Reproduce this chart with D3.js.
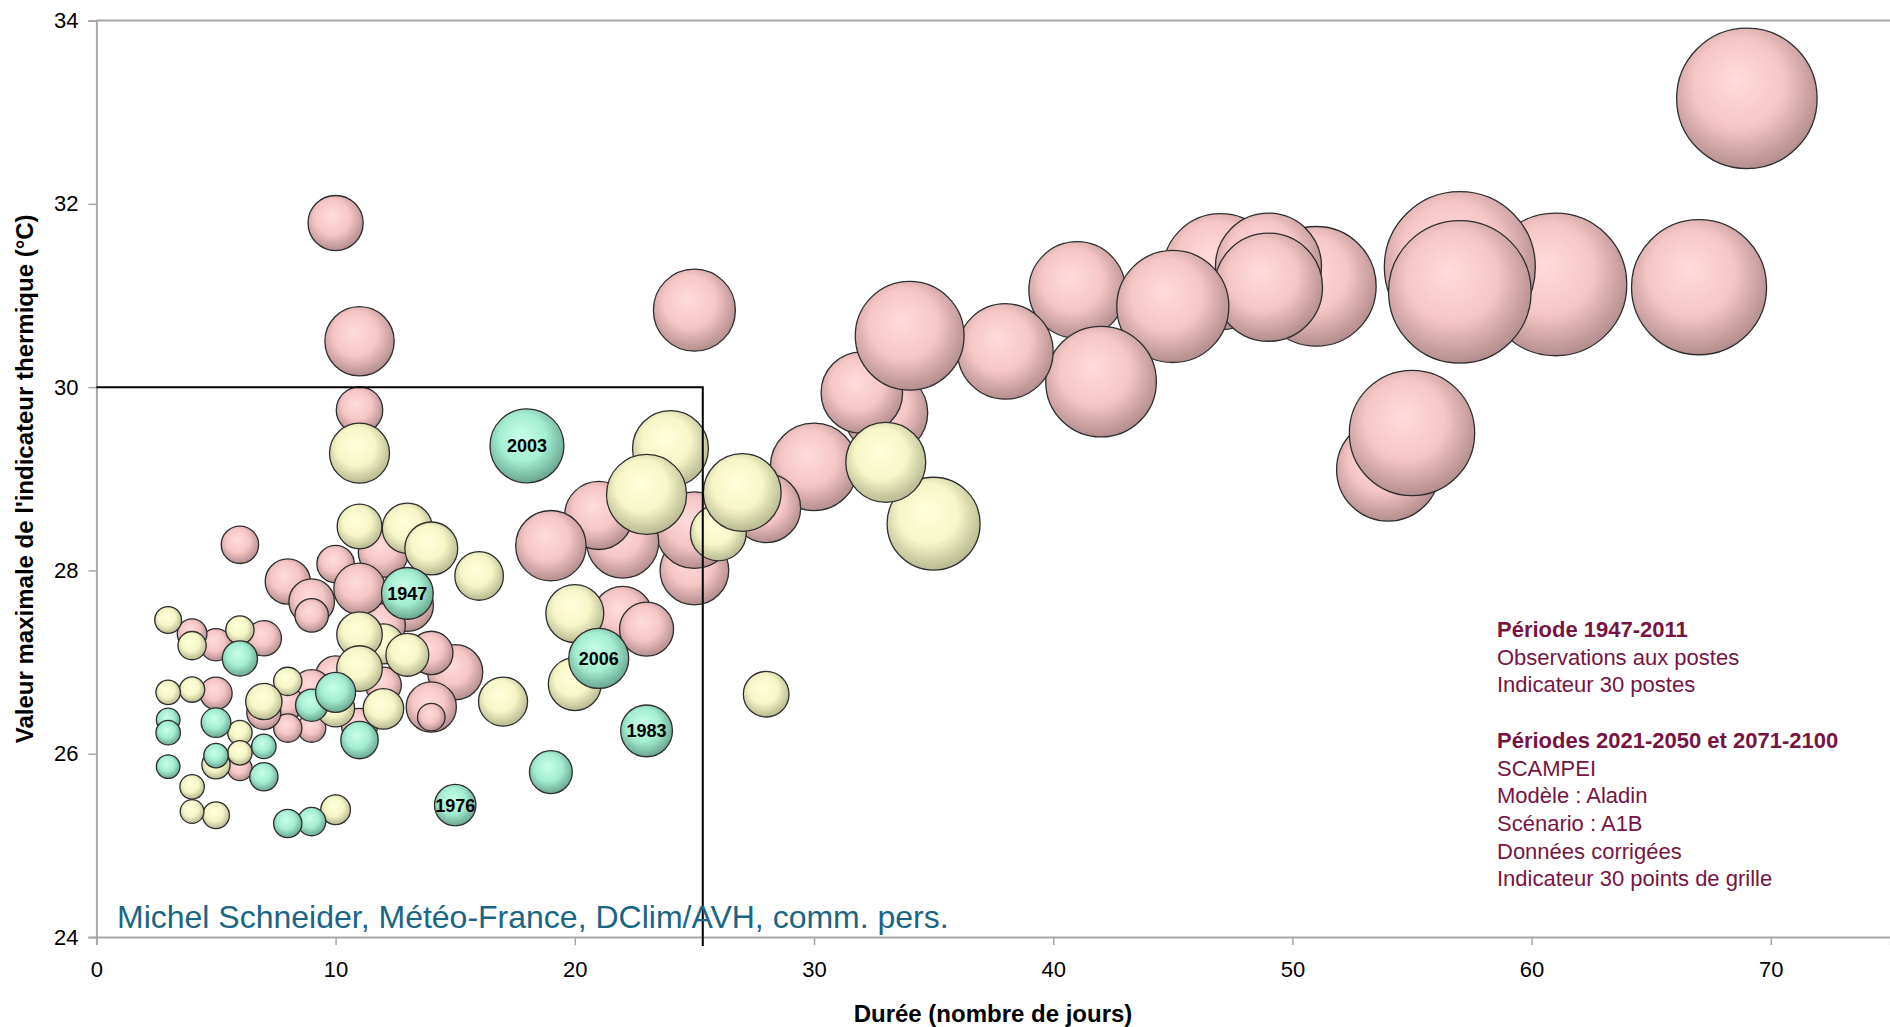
<!DOCTYPE html>
<html>
<head>
<meta charset="utf-8">
<script src="https://cdn.jsdelivr.net/npm/d3@7"></script>
<style>
  html, body { margin: 0; padding: 0; background: #fff; }
  svg { display: block; font-family: "Liberation Sans", Arial, sans-serif; }
</style>
</head>
<body>
<svg id="chart" width="1890" height="1027"></svg>
<script>
// ---------- Données ----------
// Période 2071-2100 (SCAMPEI, Aladin, A1B) : durée (jours), valeur max (°C), taille de la bulle
const duree2071 = [69, 67, 61, 57, 57, 54, 55, 51, 47, 49, 49, 41, 45, 42, 38, 33, 32, 34, 30, 28,
                   25, 25, 25, 22, 21, 19, 22, 23, 15, 14, 14, 14, 13, 12, 12, 12, 10, 11, 10, 11,
                   11, 11, 10, 8, 9, 9, 9, 9, 8, 8, 7, 7, 6, 6, 5, 5, 4];
const temp2071  = [33.15, 31.09, 31.12, 31.31, 31.04, 29.10, 29.50, 31.10, 31.26, 31.32, 31.09, 31.06,
                   30.88, 30.06, 30.39, 29.72, 29.94, 30.56, 29.13, 28.68, 30.84, 28.00, 28.44, 28.31,
                   28.60, 28.27, 27.50, 27.36, 26.89, 27.10, 26.51, 26.40, 27.62, 28.20, 27.40, 26.75,
                   28.07, 27.80, 31.79, 30.50, 29.75, 26.30, 26.85, 27.88, 27.66, 27.51, 26.70, 26.28,
                   26.55, 26.28, 27.26, 26.45, 28.28, 25.84, 27.19, 26.66, 27.31];
const taille2071 = [493, 456, 508, 570, 508, 265, 393, 358, 336, 281, 292, 233, 314, 306, 228, 176,
                    166, 296, 191, 119, 168, 118, 147, 130, 116, 124, 90, 73, 76, 47, 63, 19, 68, 63,
                    48, 32, 35, 66, 76, 120, 54, 32, 40, 51, 52, 28, 40, 20, 26, 20, 31, 29, 35, 15,
                    26, 26, 22];

// Période 2021-2050
const duree2021 = [35, 33, 28, 26, 27, 24, 23, 20, 20, 17, 16, 11, 13, 14, 11, 12, 11, 13, 11, 12,
                   10, 8, 7, 6, 6, 6, 5, 5, 4, 4, 4, 4, 3, 3, 10];
const temp2021  = [28.51, 29.18, 26.65, 28.41, 28.85, 29.33, 28.83, 27.53, 26.76, 26.57, 27.94, 28.48,
                   28.46, 28.24, 29.28, 27.20, 27.30, 27.08, 26.93, 26.49, 26.50, 26.79, 26.57, 27.35,
                   26.23, 26.01, 25.88, 25.33, 27.18, 26.70, 25.64, 25.37, 27.46, 26.67, 25.39];
const taille2021 = [216, 160, 52, 78, 151, 144, 160, 84, 70, 60, 59, 50, 63, 70, 90, 40, 52, 46, 52,
                    41, 36, 20, 33, 20, 15, 15, 20, 18, 20, 16, 15, 14, 18, 15, 22];

// Période 1947-2011 : observations aux postes
const dureeObs = [19, 11, 9, 10, 9, 8, 7, 7, 6, 5, 5, 3, 3, 3, 18, 21, 23, 15, 13];
const tempObs  = [25.80, 26.15, 26.53, 26.67, 25.26, 25.24, 26.08, 25.75, 27.04, 26.34, 25.98,
                  26.37, 26.23, 25.86, 29.36, 27.04, 26.25, 25.44, 27.75];
const tailleObs = [46, 35, 26, 40, 20, 20, 15, 20, 31, 22, 15, 14, 15, 14, 137, 90, 67, 43, 67];
const anneeObs  = ["", "", "", "", "", "", "", "", "", "", "", "", "", "", "2003", "2006", "1983", "1976", "1947"];

// Graduations
const xTicks = [0, 10, 20, 30, 40, 50, 60, 70];
const yTicks = [24, 26, 28, 30, 32, 34];

// Cadre de référence (durée, valeur)
const cadreDuree = 25.35;
const cadreTemp = 30;

const notes = [
  { text: "Période 1947-2011", bold: true },
  { text: "Observations aux postes" },
  { text: "Indicateur 30 postes" },
  { text: "" },
  { text: "Périodes 2021-2050 et 2071-2100", bold: true },
  { text: "SCAMPEI" },
  { text: "Modèle : Aladin" },
  { text: "Scénario : A1B" },
  { text: "Données corrigées" },
  { text: "Indicateur 30 points de grille" }
];

// ---------- Mise en page ----------
const svg = d3.select("#chart");
const plotLeft = 96.4, plotTop = 20.5, plotBottom = 937.1;

const x = d3.scaleLinear().domain([0, 75]).range([plotLeft, plotLeft + 75 * 23.92]);
const y = d3.scaleLinear().domain([24, 34]).range([plotBottom, plotTop]);
const r = d3.scaleSqrt().domain([0, 600]).range([0, Math.sqrt(6000)]);

// Dégradés des bulles (effet 3D)
const defs = svg.append("defs");
const palettes = {
  rose:  ["#ffdcdc", "#f6c6c6", "#b48e8e"],
  jaune: ["#ffffdc", "#f6f6c8", "#b9b992"],
  vert:  ["#c8ffea", "#a4eed2", "#6aa690"]
};
Object.entries(palettes).forEach(([id, c]) => {
  const g = defs.append("radialGradient").attr("id", "g-" + id)
    .attr("cx", "0.46").attr("cy", "0.42").attr("r", "0.58")
    .attr("fx", "0.42").attr("fy", "0.36");
  g.append("stop").attr("offset", "0%").attr("stop-color", c[0]);
  g.append("stop").attr("offset", "55%").attr("stop-color", c[1]);
  g.append("stop").attr("offset", "100%").attr("stop-color", c[2]);
});

// Axes
const axisColor = "#a6a6a6";
const yAxis = svg.append("g")
  .attr("transform", `translate(${plotLeft},0)`)
  .call(d3.axisLeft(y).tickValues(yTicks).tickSize(8).tickPadding(10).tickFormat(d3.format("d")));
const xAxis = svg.append("g")
  .attr("transform", `translate(0,${plotBottom})`)
  .call(d3.axisBottom(x).tickValues(xTicks).tickSize(8).tickPadding(16).tickFormat(d3.format("d")));
[xAxis, yAxis].forEach(a => {
  a.select(".domain").attr("stroke", axisColor).attr("stroke-width", 2);
  a.selectAll(".tick line").attr("stroke", axisColor).attr("stroke-width", 1.5);
  a.selectAll(".tick text").attr("fill", "#000").attr("font-size", 22)
    .attr("font-family", "'Liberation Sans', Arial, sans-serif");
});
// Bordure haute de la zone de tracé
svg.append("line")
  .attr("x1", plotLeft).attr("x2", x(75)).attr("y1", y(34)).attr("y2", y(34))
  .attr("stroke", axisColor).attr("stroke-width", 2);

// Bulles : 2071-2100, puis 2021-2050, puis observations
function bulles(durees, temps, tailles, couleur, annees) {
  const data = durees.map((d, i) => ({ d, t: temps[i], s: tailles[i], a: annees ? annees[i] : "" }));
  const g = svg.append("g");
  g.selectAll("circle").data(data).join("circle")
    .attr("cx", p => x(p.d)).attr("cy", p => y(p.t)).attr("r", p => r(p.s))
    .attr("fill", `url(#g-${couleur})`)
    .attr("stroke", "#2e2e2e").attr("stroke-width", 1.3);
  if (annees) {
    g.selectAll("text").data(data.filter(p => p.a)).join("text")
      .attr("x", p => x(p.d)).attr("y", p => y(p.t))
      .attr("dy", "0.36em").attr("text-anchor", "middle")
      .attr("font-size", 18).attr("font-weight", "bold").attr("fill", "#000")
      .text(p => p.a);
  }
}
bulles(duree2071, temp2071, taille2071, "rose");
bulles(duree2021, temp2021, taille2021, "jaune");
bulles(dureeObs, tempObs, tailleObs, "vert", anneeObs);

// Cadre : durée < seuil et valeur < 30 °C
svg.append("path")
  .attr("d", `M${plotLeft},${y(cadreTemp)} H${x(cadreDuree)} V${plotBottom + 9}`)
  .attr("fill", "none").attr("stroke", "#000").attr("stroke-width", 2);

// Source
svg.append("text")
  .attr("x", 117).attr("y", 928)
  .attr("font-size", 32).attr("fill", "#1b6584")
  .text("Michel Schneider, Météo-France, DClim/AVH, comm. pers.");

// Notes
svg.append("g").selectAll("text").data(notes).join("text")
  .attr("x", 1497).attr("y", (n, i) => 637 + i * 27.7)
  .attr("font-size", 22).attr("fill", "#761442")
  .attr("font-weight", n => n.bold ? "bold" : "normal")
  .text(n => n.text);

// Titres des axes
svg.append("text")
  .attr("x", 993).attr("y", 1022)
  .attr("text-anchor", "middle").attr("font-size", 24).attr("font-weight", "bold")
  .text("Durée (nombre de jours)");
svg.append("text")
  .attr("transform", `translate(33,${y(29)}) rotate(-90)`)
  .attr("text-anchor", "middle").attr("font-size", 24).attr("font-weight", "bold")
  .text("Valeur maximale de l'indicateur thermique (°C)");
</script>
</body>
</html>
